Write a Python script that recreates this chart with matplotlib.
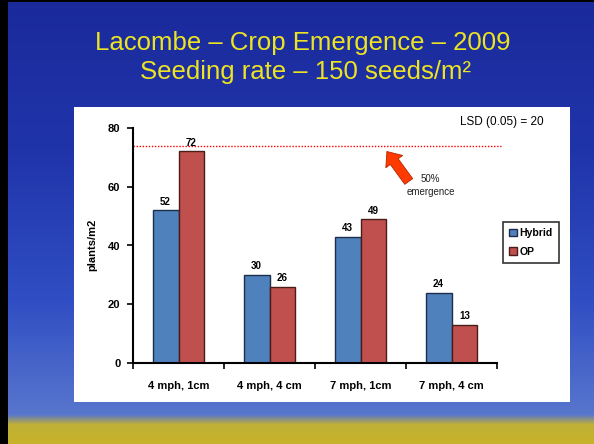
import numpy as np
import matplotlib
matplotlib.use('Agg')
import matplotlib.pyplot as plt
from matplotlib.patches import Rectangle

plt.rcParams['font.family'] = ['Liberation Sans', 'DejaVu Sans']

# data
categories = ['4 mph, 1cm', '4 mph, 4 cm', '7 mph, 1cm', '7 mph, 4 cm']
hybrid = [52, 30, 43, 24]
op = [72, 26, 49, 13]
emergence_50 = 74
title_lines = ['Lacombe \u2013 Crop Emergence \u2013 2009',
               'Seeding rate \u2013 150 seeds/m\u00b2']

W, H = 594, 444
fig = plt.figure(figsize=(W / 100, H / 100), dpi=100)

# slide background: blue sky gradient + canola field strip
bg = fig.add_axes([0, 0, 1, 1], zorder=-10)
rows = np.arange(H)
stops = [0, 150, 300, 414, 424, 444]
cols = np.array([[26, 42, 155], [32, 52, 170], [48, 78, 195], [88, 118, 205],
                 [192, 176, 55], [200, 180, 40]]) / 255.0
img = np.zeros((H, W, 3))
for c in range(3):
    img[:, :, c] = np.interp(rows, stops, cols[:, c])[:, None]
img[:, :8, :] = 0.0
img[:3, :, :] = 0.0
bg.imshow(img, aspect='auto', extent=[0, W, H, 0])
bg.set_xlim(0, W)
bg.set_ylim(H, 0)
bg.axis('off')

# white chart panel
fig.patches.append(Rectangle((74 / W, 1 - 402 / H), (570 - 74) / W, (402 - 107) / H,
                             transform=fig.transFigure, facecolor='white',
                             edgecolor='none', zorder=-5))

fig.text(303 / W, 1 - 43 / H, title_lines[0], ha='center', va='center',
         color='#ECE423', fontsize=18.5)
fig.text(305 / W, 1 - 72 / H, title_lines[1], ha='center', va='center',
         color='#ECE423', fontsize=18.5)

ax = fig.add_axes([133 / W, 1 - 363 / H, (497 - 133) / W, (363 - 128) / H])
ax.patch.set_alpha(0)
x = np.arange(len(categories))
w = 0.285
b1 = ax.bar(x - w / 2, hybrid, w, color='#4F81BD', edgecolor='#1C2E4A',
            linewidth=1, label='Hybrid')
b2 = ax.bar(x + w / 2, op, w, color='#C0504D', edgecolor='#4A1C1A',
            linewidth=1, label='OP')
for bars, vals in [(b1, hybrid), (b2, op)]:
    for r, v in zip(bars, vals):
        ax.text(r.get_x() + r.get_width() / 2, v + 1.2, str(v), ha='center',
                va='bottom', fontsize=7, fontweight='bold')

ax.axhline(emergence_50, xmin=0, xmax=1.01, color='red', linestyle=(0, (1, 1.2)),
           linewidth=1, clip_on=False)

ax.set_xlim(-0.5, 3.5)
ax.set_ylim(0, 80)
ax.set_yticks([0, 20, 40, 60, 80])
ax.set_xticks(x)
ax.set_xticklabels(categories, fontsize=8, fontweight='bold')
ax.set_xticks([-0.5, 0.5, 1.5, 2.5, 3.5], minor=True)
ax.tick_params(axis='x', which='major', length=0, pad=13)
ax.tick_params(axis='x', which='minor', length=4, width=1.2, direction='out')
ax.tick_params(axis='y', length=4, width=1.2, pad=5, labelsize=8)
for lab in ax.get_yticklabels():
    lab.set_fontweight('bold')
for s in ['top', 'right']:
    ax.spines[s].set_visible(False)
for s in ['left', 'bottom']:
    ax.spines[s].set_linewidth(1.5)

ax.annotate('', xy=(2.29, 72.0), xytext=(2.53, 61.8),
            arrowprops=dict(arrowstyle='simple,head_width=1.5,head_length=0.9,tail_width=0.7',
                            facecolor='#FF3A00', edgecolor='#B02800',
                            linewidth=0.6, shrinkA=0, shrinkB=0))
ax.text(2.77, 60.3, '50%\nemergence', ha='center', va='center', fontsize=7,
        color='#222222', linespacing=1.4)

fig.text(502 / W, 1 - 122 / H, 'LSD (0.05) = 20', ha='center', va='center',
         fontsize=8.5)
fig.text(92 / W, 1 - 245 / H, 'plants/m2', rotation=90, ha='center',
         va='center', fontsize=8, fontweight='bold')

leg = ax.legend(loc='upper left', bbox_to_anchor=(503 / W, 1 - 222 / H),
                bbox_transform=fig.transFigure, fontsize=7.5, frameon=True,
                fancybox=False, handlelength=0.7, handleheight=0.7,
                handletextpad=0.3, borderpad=0.6, labelspacing=0.8,
                borderaxespad=0)
leg.get_frame().set_edgecolor('black')
leg.get_frame().set_linewidth(1.2)
for t in leg.get_texts():
    t.set_fontweight('bold')

fig.savefig('out.png', dpi=100)
